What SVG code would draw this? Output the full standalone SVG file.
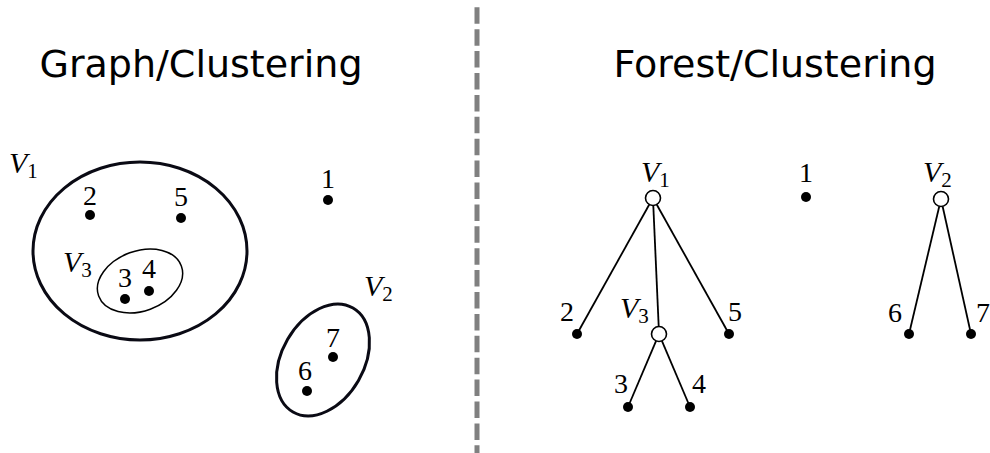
<svg xmlns="http://www.w3.org/2000/svg" width="990" height="453" viewBox="0 0 990 453">
<style>
.title{font-family:"DejaVu Sans",sans-serif;font-size:38px;fill:#000;text-anchor:middle}
.num{font-family:"Liberation Serif",serif;font-size:28px;fill:#000;text-anchor:middle}
.var{font-family:"Liberation Serif",serif;font-size:30px;font-style:italic;fill:#000}
.sub{font-size:21px;font-style:normal}
.dot{fill:#000}
.open{fill:#fff;stroke:#000;stroke-width:1.6}
.thick{fill:none;stroke:#0a0a14;stroke-width:3}
.thin{fill:none;stroke:#000;stroke-width:1.5}
.edge{stroke:#000;stroke-width:1.8}
</style>
<rect width="990" height="453" fill="#fff"/>
<line x1="477" y1="7.3" x2="477" y2="453" stroke="#808080" stroke-width="5" stroke-dasharray="16.5 5.4"/>
<text class="title" x="201" y="77">Graph/Clustering</text>
<text class="title" x="775" y="77">Forest/Clustering</text>

<g id="left-clusters">
  <g id="cluster-V1">
    <ellipse class="thick" cx="140" cy="251" rx="107" ry="89"/>
    <text class="var" x="9" y="173">V<tspan class="sub" dy="5">1</tspan></text>
  </g>
  <g id="cluster-V3">
    <ellipse class="thin" cx="140" cy="281" rx="44" ry="30" transform="rotate(-20 140 281)"/>
    <text class="var" x="63" y="272">V<tspan class="sub" dy="5">3</tspan></text>
  </g>
  <g id="cluster-V2">
    <ellipse class="thick" cx="323" cy="360" rx="60" ry="41" transform="rotate(-60 323 360)"/>
    <text class="var" x="364" y="296">V<tspan class="sub" dy="5">2</tspan></text>
  </g>
  <g id="g-node-2"><circle class="dot" cx="90" cy="215" r="5"/><text class="num" x="90" y="205">2</text></g>
  <g id="g-node-5"><circle class="dot" cx="181" cy="218" r="5"/><text class="num" x="181" y="206">5</text></g>
  <g id="g-node-3"><circle class="dot" cx="125" cy="299" r="5"/><text class="num" x="125" y="287">3</text></g>
  <g id="g-node-4"><circle class="dot" cx="149" cy="291" r="5"/><text class="num" x="149" y="278">4</text></g>
  <g id="g-node-1"><circle class="dot" cx="328" cy="200" r="5"/><text class="num" x="328" y="188">1</text></g>
  <g id="g-node-6"><circle class="dot" cx="307" cy="391" r="5"/><text class="num" x="305" y="380">6</text></g>
  <g id="g-node-7"><circle class="dot" cx="333" cy="357" r="5"/><text class="num" x="333" y="347">7</text></g>
</g>

<g id="connectors">
  <line class="edge" x1="649.3" y1="204.5" x2="577" y2="334"/>
  <line class="edge" x1="653.3" y1="205.5" x2="658.7" y2="326.5"/>
  <line class="edge" x1="656.7" y1="204.5" x2="729" y2="334"/>
  <line class="edge" x1="656.1" y1="340.9" x2="628" y2="407"/>
  <line class="edge" x1="661.9" y1="340.9" x2="690" y2="407"/>
  <line class="edge" x1="939.3" y1="206.3" x2="909" y2="334"/>
  <line class="edge" x1="942.6" y1="206.3" x2="971" y2="334"/>
</g>

<g id="t-V1"><circle class="open" cx="653" cy="198" r="7.5"/><text class="var" x="641" y="182">V<tspan class="sub" dy="5">1</tspan></text></g>
<g id="t-V3"><circle class="open" cx="659" cy="334" r="7.5"/><text class="var" x="620" y="318">V<tspan class="sub" dy="5">3</tspan></text></g>
<g id="t-V2"><circle class="open" cx="941" cy="199" r="7.5"/><text class="var" x="923" y="182">V<tspan class="sub" dy="5">2</tspan></text></g>
<g id="t-node-2"><circle class="dot" cx="577" cy="334" r="5"/><text class="num" x="567" y="321">2</text></g>
<g id="t-node-5"><circle class="dot" cx="729" cy="334" r="5"/><text class="num" x="735" y="321">5</text></g>
<g id="t-node-3"><circle class="dot" cx="628" cy="407" r="5"/><text class="num" x="621" y="393">3</text></g>
<g id="t-node-4"><circle class="dot" cx="690" cy="407" r="5"/><text class="num" x="699" y="393">4</text></g>
<g id="t-node-1"><circle class="dot" cx="806" cy="197" r="5"/><text class="num" x="806" y="182">1</text></g>
<g id="t-node-6"><circle class="dot" cx="909" cy="334" r="5"/><text class="num" x="895" y="322">6</text></g>
<g id="t-node-7"><circle class="dot" cx="971" cy="334" r="5"/><text class="num" x="983" y="322">7</text></g>
</svg>
